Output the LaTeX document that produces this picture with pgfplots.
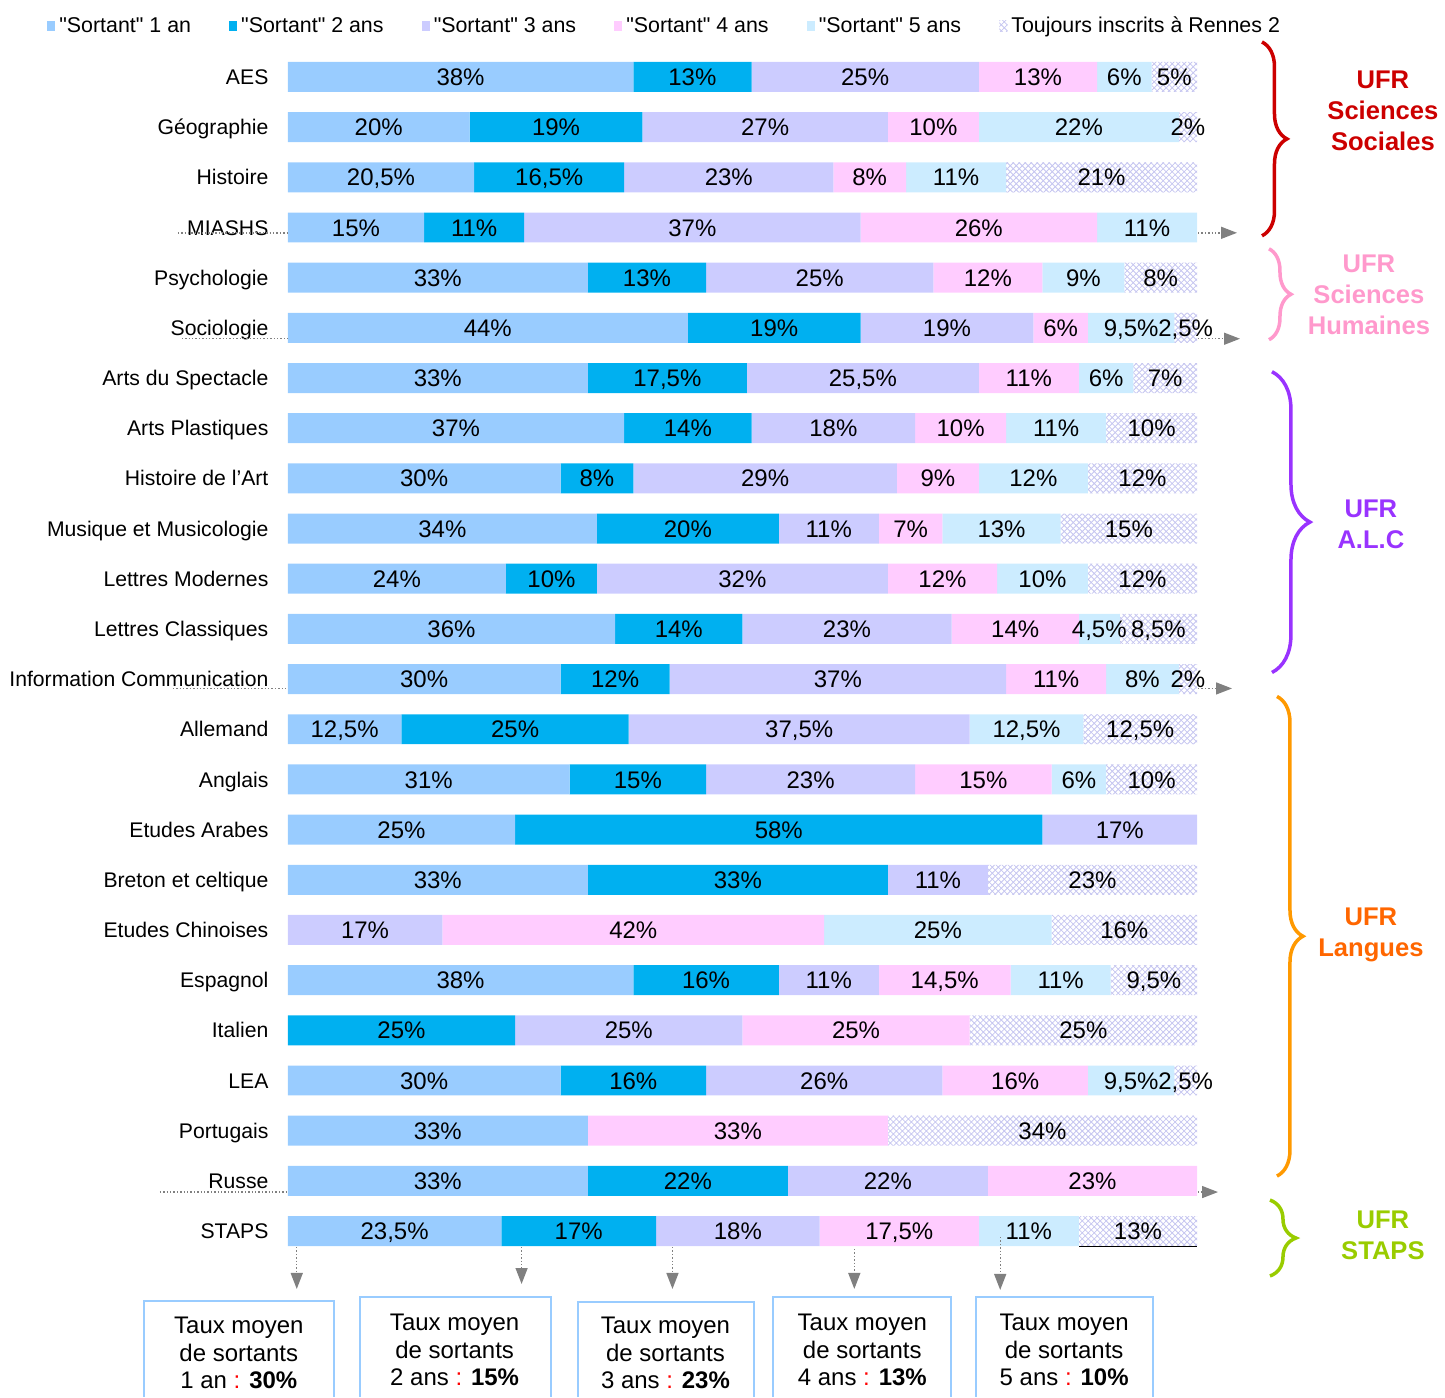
\documentclass[border=0pt]{standalone}
\usepackage{pgfplots}
\pgfplotsset{compat=1.18}
\usepackage{pgfplotstable}
\usepackage{fontspec}
\setmainfont{Liberation Sans}
\usetikzlibrary{patterns,decorations.pathreplacing,arrows.meta}
\definecolor{c1}{HTML}{99CCFF}
\definecolor{c2}{HTML}{00B0F0}
\definecolor{c3}{HTML}{CCCCFF}
\definecolor{c4}{HTML}{FFCCFF}
\definecolor{c5}{HTML}{CCECFF}
\definecolor{hatchc}{RGB}{198,198,240}
\definecolor{ured}{HTML}{CC0000}
\definecolor{upink}{HTML}{FF99CC}
\definecolor{upurple}{HTML}{9933FF}
\definecolor{uorange}{HTML}{FF9900}
\definecolor{uorangetxt}{HTML}{FF6600}
\definecolor{ugreen}{HTML}{99CC00}
\definecolor{arrowgray}{HTML}{808080}

\pgfplotstableread{
y a b c d e f
23 38 13 25 13 6 5
22 20 19 27 10 22 2
21 20.5 16.5 23 8 11 21
20 15 11 37 26 11 0
19 33 13 25 12 9 8
18 44 19 19 6 9.5 2.5
17 33 17.5 25.5 11 6 7
16 37 14 18 10 11 10
15 30 8 29 9 12 12
14 34 20 11 7 13 15
13 24 10 32 12 10 12
12 36 14 23 14 4.5 8.5
11 30 12 37 11 8 2
10 12.5 25 37.5 0 12.5 12.5
9 31 15 23 15 6 10
8 25 58 17 0 0 0
7 33 33 11 0 0 23
6 0 0 17 42 25 16
5 38 16 11 14.5 11 9.5
4 0 25 25 25 0 25
3 30 16 26 16 9.5 2.5
2 33 0 0 33 0 34
1 33 22 22 23 0 0
0 23.5 17 18 17.5 11 13
}\data

\begin{document}
\begin{tikzpicture}
\begin{scope}[x=0.5pt,y=-0.5pt]
\path[use as bounding box] (0,0) rectangle (1445,1398);
\end{scope}
\begin{axis}[
  at={(144pt,-628.55pt)}, anchor=south west,
  scale only axis, width=455pt, height=602.6pt,
  xmin=0, xmax=100, ymin=-0.5, ymax=23.5,
  xbar stacked, bar width=15pt,
  axis line style={draw=none},
  major tick length=0pt,
  xtick=\empty,
  ytick={0,...,23},
  yticklabels={STAPS,Russe,Portugais,LEA,Italien,Espagnol,Etudes Chinoises,Breton et celtique,Etudes Arabes,Anglais,Allemand,Information Communication,Lettres Classiques,Lettres Modernes,Musique et Musicologie,Histoire de l'Art,Arts Plastiques,Arts du Spectacle,Sociologie,Psychologie,MIASHS,Histoire,Géographie,AES},
  yticklabel style={font=\fontsize{10.6}{12}\selectfont, anchor=base east, inner sep=0pt, xshift=-9.5pt, yshift=-3.8pt},
  clip=false,
  point meta=explicit,
  nodes near coords={\pgfmathfloatifflags{\pgfplotspointmeta}{0}{}{\pgfmathprintnumber{\pgfplotspointmeta}\%}},
  every node near coord/.append style={font=\fontsize{12}{14}\selectfont, text=black, anchor=base, yshift=-4.3pt},
  /pgf/number format/use comma,
  /pgf/number format/assume math mode=true,
  legend columns=6,
  legend image code/.code={\fill[#1,draw=none] (0pt,-2.6pt) rectangle (4pt,2.6pt);},
  legend style={at={(-0.2648,1.0214)}, anchor=west, draw=none, fill=none, inner sep=0pt,
    font=\fontsize{10.7}{12}\selectfont,
    /tikz/every even column/.append style={column sep=17.1pt}},
  legend cell align=left,
]
\addplot[fill=c1, draw=none] table[x=a, y=y, meta=a] {\data};
\addplot[fill=c2, draw=none] table[x=b, y=y, meta=b] {\data};
\addplot[fill=c3, draw=none] table[x=c, y=y, meta=c] {\data};
\addplot[fill=c4, draw=none] table[x=d, y=y, meta=d] {\data};
\addplot[fill=c5, draw=none] table[x=e, y=y, meta=e] {\data};
\addplot[pattern=crosshatch, pattern color=hatchc, draw=none] table[x=f, y=y, meta=f] {\data};
\legend{\textquotedbl Sortant\textquotedbl{} 1 an,\textquotedbl Sortant\textquotedbl{} 2 ans,\textquotedbl Sortant\textquotedbl{} 3 ans,\textquotedbl Sortant\textquotedbl{} 4 ans,\textquotedbl Sortant\textquotedbl{} 5 ans,Toujours inscrits à Rennes 2}
\end{axis}

\begin{scope}[x=0.5pt,y=-0.5pt]
% separators
\draw[arrowgray, densely dotted, line width=0.7pt] (178,233) -- (288,233);
\draw[arrowgray, densely dotted, line width=0.7pt] (182,339) -- (288,339);
\draw[arrowgray, densely dotted, line width=0.7pt] (173,689) -- (288,689);
\draw[arrowgray, densely dotted, line width=0.7pt] (160,1193) -- (288,1193);
\tikzset{harr/.style={arrowgray, densely dotted, line width=0.7pt, -{Triangle[width=6pt,length=8pt]}}}
\draw[harr] (1199,233) -- (1238,233);
\draw[harr] (1199,339) -- (1241,339);
\draw[harr] (1199,689) -- (1233,689);
\draw[harr] (1199,1193) -- (1219,1193);
\draw[harr] (297,1248) -- (297,1290);
\draw[harr] (522,1248) -- (522,1285);
\draw[harr] (673,1248) -- (673,1290);
\draw[harr] (855,1250) -- (855,1290);
\draw[harr] (1001,1238) -- (1001,1291);
\draw[black, line width=0.5pt] (1080,1247) -- (1198,1247);
% braces
\tikzset{br/.style={decorate, line width=1.75pt, decoration={brace, amplitude=#1}}}
\draw[ured, br=12.5pt] (1263,42) -- (1263,236);
\draw[upink, br=11pt] (1270,249) -- (1270,340);
\draw[upurple, br=19pt] (1273,372) -- (1273,673);
\draw[uorange, br=13pt] (1278,697) -- (1278,1177);
\draw[ugreen, br=13pt] (1271,1201) -- (1271,1277);
\tikzset{ufr/.style={align=center, font=\fontsize{12.8}{15.5}\selectfont\bfseries}}
\node[ufr, text=ured] at (1384,111) {UFR\\Sciences\\Sociales};
\node[ufr, text=upink] at (1370,295) {UFR\\Sciences\\Humaines};
\node[ufr, text=upurple] at (1372,525) {UFR\\A.L.C};
\node[ufr, text=uorangetxt] at (1372,935.5) {UFR\\Langues};
\node[ufr, text=ugreen] at (1384,1236) {UFR\\STAPS};
% boxes
\tikzset{bx/.style={draw=c1, line width=1pt}, bt/.style={align=center, font=\fontsize{12}{13.6}\selectfont}}
\draw[bx] (144,1398) -- (144,1302) -- (334,1302) -- (334,1398);
\draw[bx] (360,1398) -- (360,1298) -- (551,1298) -- (551,1398);
\draw[bx] (578,1398) -- (578,1303) -- (755,1303) -- (755,1398);
\draw[bx] (774,1398) -- (774,1298) -- (952,1298) -- (952,1398);
\draw[bx] (977,1398) -- (977,1298) -- (1154,1298) -- (1154,1398);
\node[bt] at (239,1354) {Taux moyen\\de sortants\\1 an {\color{red}:} \textbf{30\%}};
\node[bt] at (455,1351) {Taux moyen\\de sortants\\2 ans {\color{red}:} \textbf{15\%}};
\node[bt] at (666,1354) {Taux moyen\\de sortants\\3 ans {\color{red}:} \textbf{23\%}};
\node[bt] at (863,1351) {Taux moyen\\de sortants\\4 ans {\color{red}:} \textbf{13\%}};
\node[bt] at (1065,1351) {Taux moyen\\de sortants\\5 ans {\color{red}:} \textbf{10\%}};
\end{scope}
\end{tikzpicture}
\end{document}
